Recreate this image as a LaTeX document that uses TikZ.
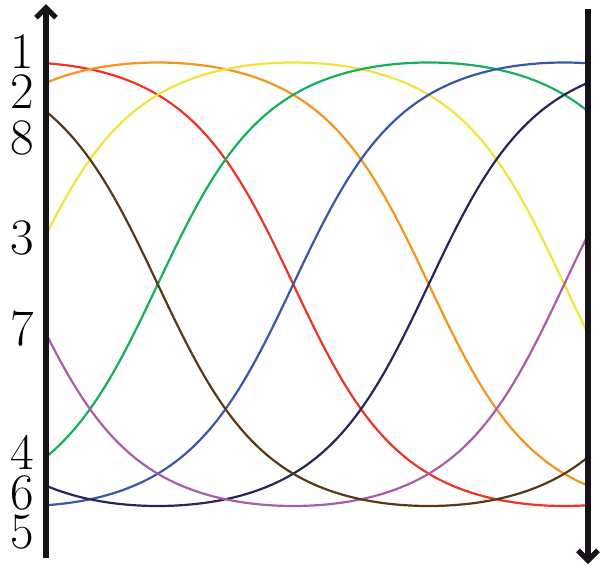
\documentclass[tikz,border=0pt]{standalone}
\usetikzlibrary{arrows.meta}
\definecolor{axisblack}{RGB}{22,18,24}
\definecolor{tRed}{RGB}{238,52,38}
\definecolor{tOrange}{RGB}{247,148,30}
\definecolor{tYellow}{RGB}{240,228,62}
\definecolor{tGreen}{RGB}{22,176,92}
\definecolor{tBlue}{RGB}{58,88,168}
\definecolor{tNavy}{RGB}{42,36,92}
\definecolor{tPurple}{RGB}{170,92,172}
\definecolor{tBrown}{RGB}{88,56,22}
\begin{document}
\begin{tikzpicture}[
    x=0.5pt, y=-0.5pt,
    axis/.style={draw=axisblack, line width=2.6pt,
                 -{Straight Barb[length=5pt, width=10pt]}},
    trace/.style={line width=1.1pt},
    tag/.style={font=\fontsize{25.6}{30}\selectfont, inner sep=0pt},
    declare function={
      wave(\t)=cos(\t)/sqrt(cos(\t)*cos(\t)+0.37*sin(\t)*sin(\t));
      ph(\t)=(\t-22.25)/3.0111;
    },
  ]
  \useasboundingbox (0,0) rectangle (601,568);
  % the two axes
  \coordinate (lbot) at (46,558);
  \coordinate (ltop) at (46,4);
  \coordinate (rtop) at (588,9);
  \coordinate (rbot) at (588,564);
  % the eight traces, one phase step apart
  \draw[trace, tRed]    plot[domain=46:588, samples=140] (\x, {284.25-221.75*wave(ph(\x))});
  \draw[trace, tOrange] plot[domain=46:588, samples=140] (\x, {284.25-221.75*wave(ph(\x)-45)});
  \draw[trace, tYellow] plot[domain=46:588, samples=140] (\x, {284.25-221.75*wave(ph(\x)-90)});
  \draw[trace, tGreen]  plot[domain=46:588, samples=140] (\x, {284.25-221.75*wave(ph(\x)-135)});
  \draw[trace, tBlue]   plot[domain=46:588, samples=140] (\x, {284.25-221.75*wave(ph(\x)-180)});
  \draw[trace, tNavy]   plot[domain=46:588, samples=140] (\x, {284.25-221.75*wave(ph(\x)-225)});
  \draw[trace, tPurple] plot[domain=46:588, samples=140] (\x, {284.25-221.75*wave(ph(\x)-270)});
  \draw[trace, tBrown]  plot[domain=46:588, samples=140] (\x, {284.25-221.75*wave(ph(\x)-315)});
  \draw[axis] (lbot) -- (ltop);
  \draw[axis] (rtop) -- (rbot);
  % labels on the left
  \node[tag] (n1) at (22.5,51.7) {1};
  \node[tag] (n2) at (22.5,91.7) {2};
  \node[tag] (n8) at (22.5,138) {8};
  \node[tag] (n3) at (22.5,238) {3};
  \node[tag] (n7) at (22.5,329) {7};
  \node[tag] (n4) at (22.5,452) {4};
  \node[tag] (n6) at (22.5,493) {6};
  \node[tag] (n5) at (22.5,531.7) {5};
\end{tikzpicture}
\end{document}
